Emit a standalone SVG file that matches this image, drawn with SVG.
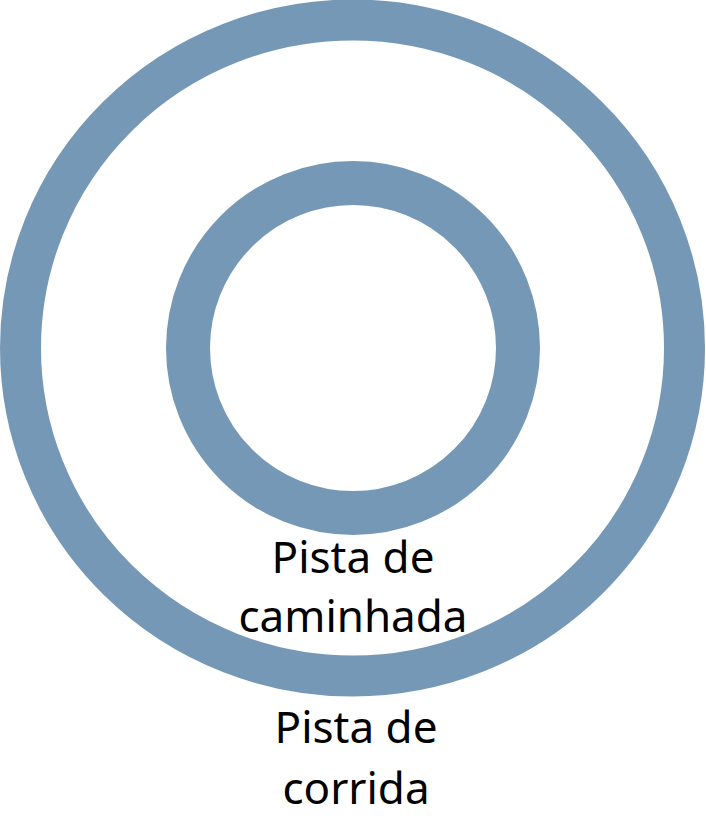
<svg xmlns="http://www.w3.org/2000/svg" width="706" height="819" viewBox="0 0 706 819">
<style>
.ring{fill:none;stroke:#7598b6}
.lbl{font-family:"Noto Sans","Open Sans",sans-serif;font-size:44px;fill:#000;text-anchor:middle}
</style>
<rect width="706" height="819" fill="#fff"/>
<g id="pista-corrida">
<ellipse class="ring" cx="352.5" cy="348" rx="332" ry="328" stroke-width="41"/>
<text class="lbl" x="356" y="743">Pista de</text>
<text class="lbl" x="356" y="804">corrida</text>
</g>
<g id="pista-caminhada">
<circle class="ring" cx="353" cy="348" r="165" stroke-width="44"/>
<text class="lbl" x="353" y="573">Pista de</text>
<text class="lbl" x="353" y="632">caminhada</text>
</g>
<g id="connectors"/>
</svg>
